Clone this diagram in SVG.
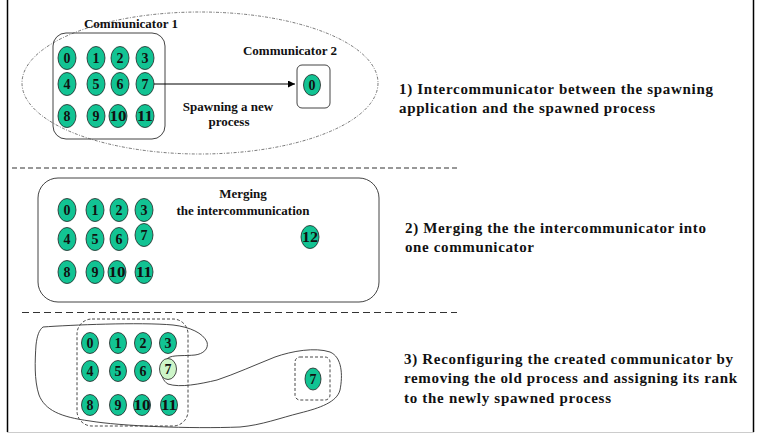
<svg xmlns="http://www.w3.org/2000/svg" width="759" height="435" viewBox="0 0 759 435">
<style>
  .p ellipse { fill: #12c393; stroke: #222; stroke-width: 0.8; }
  .p text, .lab, .desc { font-family: 'Liberation Serif', 'Times New Roman', 'DejaVu Serif', serif; font-weight: bold; fill: #111; }
  .p text { font-size: 14px; text-anchor: middle; }
  .lab { font-size: 13px; }
  .desc { font-size: 15px; }
  .sep { stroke: #333; stroke-width: 1.2; fill: none; }
  .box { fill: none; stroke: #444; stroke-width: 1; }
  .dbox { fill: none; stroke: #333; stroke-width: 0.9; stroke-dasharray: 3 2; }
</style>
<defs>
  <marker id="ah" viewBox="0 0 10 10" refX="10" refY="5" markerWidth="7" markerHeight="7" orient="auto" markerUnits="userSpaceOnUse">
    <path d="M0,0 L10,5 L0,10 z" fill="#000"/>
  </marker>
</defs>
<rect width="759" height="435" fill="#fff"/>
<g id="frame">
  <line x1="7.5" y1="0" x2="7.5" y2="432" stroke="#000" stroke-width="1.5"/>
  <line x1="753.5" y1="0" x2="753.5" y2="432" stroke="#000" stroke-width="1.5"/>
  <line x1="7" y1="432.5" x2="754" y2="432.5" stroke="#ccc" stroke-width="1"/>
</g>
<g id="separators">
  <line class="sep" x1="12" y1="168" x2="457" y2="168" stroke-dasharray="5 3"/>
  <line class="sep" x1="22" y1="312.5" x2="457" y2="312.5" stroke-dasharray="7 4"/>
</g>

<g id="intercomm">
  <ellipse cx="200" cy="83" rx="178" ry="71" fill="none" stroke="#555" stroke-width="0.8" stroke-dasharray="3 1.5 1 1.5"/>
</g>
<g id="comm1">
  <rect class="box" x="53" y="33" width="112" height="106" rx="13"/>
  <text class="lab" x="131" y="28" text-anchor="middle">Communicator 1</text>
</g>
<g id="procs1" class="p">
  <ellipse cx="67" cy="58" rx="9" ry="11.5"/><text x="67" y="63">0</text>
  <ellipse cx="96" cy="58" rx="9" ry="11.5"/><text x="96" y="63">1</text>
  <ellipse cx="120" cy="58" rx="9" ry="11.5"/><text x="120" y="63">2</text>
  <ellipse cx="145" cy="58" rx="9" ry="11.5"/><text x="145" y="63">3</text>
  <ellipse cx="67" cy="84" rx="9" ry="11.5"/><text x="67" y="89">4</text>
  <ellipse cx="96" cy="84" rx="9" ry="11.5"/><text x="96" y="89">5</text>
  <ellipse cx="120" cy="84" rx="9" ry="11.5"/><text x="120" y="89">6</text>
  <ellipse cx="145" cy="84" rx="9" ry="11.5"/><text x="145" y="89">7</text>
  <ellipse cx="67" cy="116" rx="9" ry="11.5"/><text x="67" y="121">8</text>
  <ellipse cx="96" cy="116" rx="9" ry="11.5"/><text x="96" y="121">9</text>
  <ellipse cx="118" cy="116" rx="9" ry="11.5"/><text x="118" y="121" textLength="17" lengthAdjust="spacingAndGlyphs">10</text>
  <ellipse cx="145" cy="116" rx="9" ry="11.5"/><text x="145" y="121" textLength="16" lengthAdjust="spacingAndGlyphs">11</text>
</g>
<g id="comm2">
  <rect class="box" x="297" y="65" width="33" height="43" rx="5"/>
  <text class="lab" x="290" y="55" text-anchor="middle">Communicator 2</text>
</g>
<g id="new0" class="p">
  <ellipse cx="312" cy="85" rx="8.5" ry="10.5"/><text x="312" y="90">0</text>
</g>
<g id="connectors">
  <line x1="154" y1="84" x2="295" y2="84" stroke="#000" stroke-width="1" marker-end="url(#ah)"/>
</g>
<g id="spawn-label">
  <text class="lab" x="228" y="111" text-anchor="middle">Spawning a new</text>
  <text class="lab" x="229" y="126" text-anchor="middle">process</text>
</g>
<g id="desc1">
  <text class="desc" x="399" y="94" textLength="314" lengthAdjust="spacing">1) Intercommunicator between the spawning</text>
  <text class="desc" x="399" y="113" textLength="256" lengthAdjust="spacing">application and the spawned process</text>
</g>

<g id="merged">
  <rect class="box" x="38" y="178" width="341" height="124" rx="20"/>
  <text class="lab" x="243" y="198" text-anchor="middle">Merging</text>
  <text class="lab" x="243" y="215" text-anchor="middle">the intercommunication</text>
</g>
<g id="procs2" class="p">
  <ellipse cx="67" cy="210" rx="9" ry="11.5"/><text x="67" y="215">0</text>
  <ellipse cx="95" cy="210" rx="9" ry="11.5"/><text x="95" y="215">1</text>
  <ellipse cx="119" cy="210" rx="9" ry="11.5"/><text x="119" y="215">2</text>
  <ellipse cx="144" cy="210" rx="9" ry="11.5"/><text x="144" y="215">3</text>
  <ellipse cx="67" cy="239" rx="9" ry="11.5"/><text x="67" y="244">4</text>
  <ellipse cx="95" cy="239" rx="9" ry="11.5"/><text x="95" y="244">5</text>
  <ellipse cx="119" cy="239" rx="9" ry="11.5"/><text x="119" y="244">6</text>
  <ellipse cx="144" cy="235" rx="9" ry="11.5"/><text x="144" y="240">7</text>
  <ellipse cx="67" cy="272" rx="9" ry="11.5"/><text x="67" y="277">8</text>
  <ellipse cx="95" cy="272" rx="9" ry="11.5"/><text x="95" y="277">9</text>
  <ellipse cx="117" cy="272" rx="9" ry="11.5"/><text x="117" y="277" textLength="17" lengthAdjust="spacingAndGlyphs">10</text>
  <ellipse cx="144" cy="272" rx="9" ry="11.5"/><text x="144" y="277" textLength="16" lengthAdjust="spacingAndGlyphs">11</text>
  <ellipse cx="310" cy="237" rx="9" ry="11.5"/><text x="310" y="242" textLength="16" lengthAdjust="spacingAndGlyphs">12</text>
</g>
<g id="desc2">
  <text class="desc" x="405" y="233" textLength="301" lengthAdjust="spacing">2) Merging the the intercommunicator into</text>
  <text class="desc" x="405" y="252" textLength="129" lengthAdjust="spacing">one communicator</text>
</g>

<g id="outline">
  <path d="M43,327 C70,325 140,322 173,325 C190,327 203,333 207,342 C209,349 203,354 195,355 C185,356 176,355 170,357 C160,361 158,378 168,384 C180,388 200,384 217,380 C235,374 255,365 275,357 C292,351 315,347 330,352 C342,357 343,375 340,390 C337,402 320,408 300,413 C280,418 262,425 240,427 C190,429 120,426 90,421 C60,417 45,410 39,395 C34,380 35,360 36,345 C37,336 39,330 43,327 Z" fill="none" stroke="#333" stroke-width="0.9"/>
</g>
<g id="comm3">
  <rect class="dbox" x="77" y="319" width="111" height="107" rx="15"/>
</g>
<g id="procs3" class="p">
  <ellipse cx="90" cy="343" rx="8.5" ry="10.5"/><text x="90" y="348">0</text>
  <ellipse cx="118" cy="343" rx="8.5" ry="10.5"/><text x="118" y="348">1</text>
  <ellipse cx="143" cy="343" rx="8.5" ry="10.5"/><text x="143" y="348">2</text>
  <ellipse cx="168" cy="343" rx="8.5" ry="10.5"/><text x="168" y="348">3</text>
  <ellipse cx="90" cy="371" rx="8.5" ry="10.5"/><text x="90" y="376">4</text>
  <ellipse cx="118" cy="371" rx="8.5" ry="10.5"/><text x="118" y="376">5</text>
  <ellipse cx="143" cy="371" rx="8.5" ry="10.5"/><text x="143" y="376">6</text>
  <ellipse cx="168" cy="369" rx="8.5" ry="10.5" style="fill:#cdf5c8"/><text x="168" y="374">7</text>
  <ellipse cx="90" cy="405" rx="8.5" ry="10.5"/><text x="90" y="410">8</text>
  <ellipse cx="118" cy="405" rx="8.5" ry="10.5"/><text x="118" y="410">9</text>
  <ellipse cx="142" cy="405" rx="8.5" ry="10.5"/><text x="142" y="410" textLength="17" lengthAdjust="spacingAndGlyphs">10</text>
  <ellipse cx="169" cy="405" rx="8.5" ry="10.5"/><text x="169" y="410" textLength="16" lengthAdjust="spacingAndGlyphs">11</text>
</g>
<g id="newproc">
  <rect class="dbox" x="295" y="357" width="35" height="43" rx="5"/>
  <g class="p"><ellipse cx="313" cy="379" rx="8" ry="11"/><text x="313" y="384">7</text></g>
</g>
<g id="desc3">
  <text class="desc" x="404" y="364" textLength="329" lengthAdjust="spacing">3) Reconfiguring the created communicator by</text>
  <text class="desc" x="404" y="383" textLength="333" lengthAdjust="spacing">removing the old process and assigning its rank</text>
  <text class="desc" x="404" y="403" textLength="207" lengthAdjust="spacing">to the newly spawned process</text>
</g>
</svg>
